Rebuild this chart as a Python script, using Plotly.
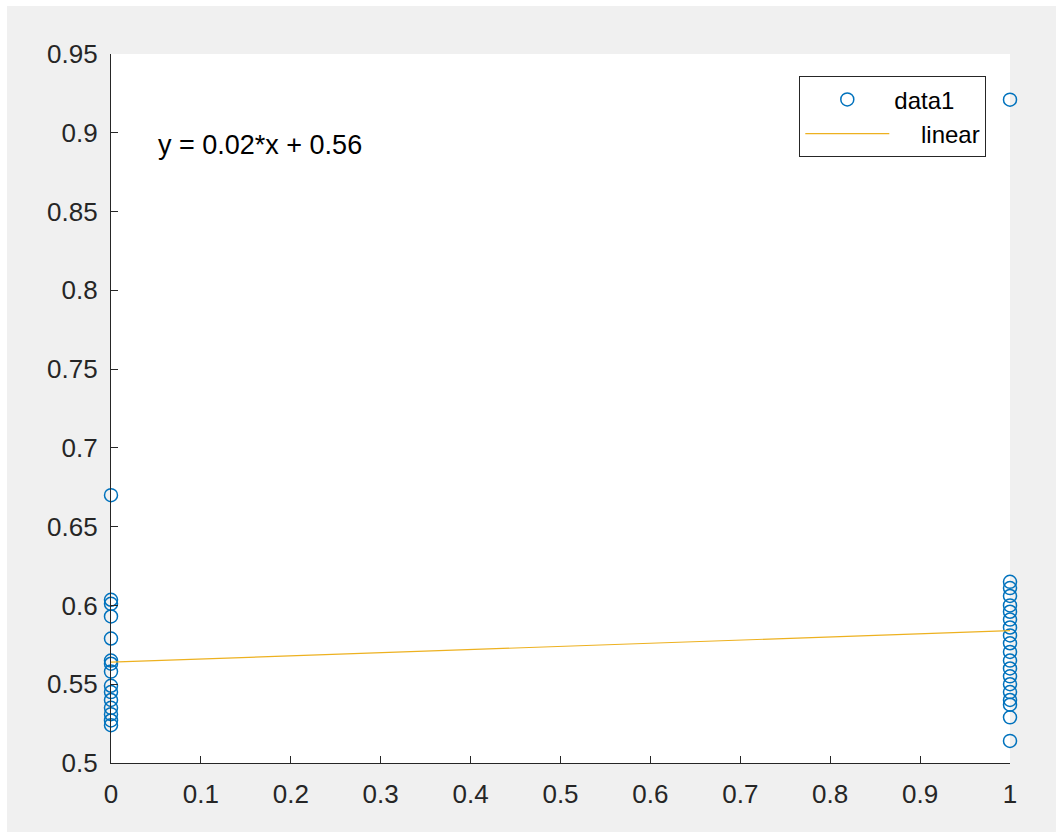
import plotly.graph_objects as go

# ---- data ----
x_group0 = [0] * 15
y_group0 = [0.670, 0.6036, 0.601, 0.593, 0.579, 0.565, 0.563, 0.558, 0.549,
            0.545, 0.540, 0.535, 0.531, 0.527, 0.524]
x_group1 = [1] * 20
y_group1 = [0.921, 0.615, 0.611, 0.606, 0.600, 0.596, 0.591, 0.586, 0.581,
            0.576, 0.5705, 0.565, 0.560, 0.555, 0.550, 0.545, 0.540, 0.537,
            0.529, 0.514]
fit_x = [0, 1]
fit_y = [0.564, 0.584]
series_names = ["data1", "linear"]
equation_text = "y = 0.02*x + 0.56"
equation_pos = (0.05, 0.892)

x_ticks = [0, 0.1, 0.2, 0.3, 0.4, 0.5, 0.6, 0.7, 0.8, 0.9, 1]
x_tick_labels = ["0", "0.1", "0.2", "0.3", "0.4", "0.5", "0.6", "0.7", "0.8", "0.9", "1"]
y_ticks = [0.5, 0.55, 0.6, 0.65, 0.7, 0.75, 0.8, 0.85, 0.9, 0.95]
y_tick_labels = ["0.5", "0.55", "0.6", "0.65", "0.7", "0.75", "0.8", "0.85", "0.9", "0.95"]

BLUE = "#0072BD"
YELLOW = "#EDB120"
AX = "#262626"
FONT = "Liberation Sans, Arial, Helvetica, sans-serif"

# figure placed at page offset (7, 6)
OX, OY = 7, 6
W, H = 1056 - OX, 832 - OY
L, R, T, B = 111 - OX, 46, 54 - OY, 69
pw = W - L - R
ph = H - T - B

fig = go.Figure()
fig.add_trace(go.Scatter(
    x=x_group0 + x_group1, y=y_group0 + y_group1, mode="markers", name=series_names[0],
    marker=dict(symbol="circle-open", size=13, color=BLUE, line=dict(width=1.5, color=BLUE)),
    cliponaxis=False,
))
fig.add_trace(go.Scatter(
    x=fit_x, y=fit_y, mode="lines", name="\u00a0\u00a0\u00a0\u00a0" + series_names[1],
    line=dict(color=YELLOW, width=1.2),
))

fig.add_annotation(
    x=equation_pos[0], y=equation_pos[1], xref="x", yref="y",
    text=equation_text, showarrow=False, xanchor="left", yanchor="middle",
    font=dict(family=FONT, size=27, color="#000000"),
)

axis_common = dict(
    showgrid=False, zeroline=False, showline=True, linecolor=AX, linewidth=1.3,
    ticks="inside", ticklen=7, tickwidth=1.3, tickcolor=AX, mirror=False,
    tickfont=dict(family=FONT, size=26, color=AX),
)
fig.update_xaxes(range=[0, 1], tickvals=x_ticks, ticktext=x_tick_labels,
                 ticklabelstandoff=8, **axis_common)
fig.update_yaxes(range=[0.5, 0.95], tickvals=y_ticks, ticktext=y_tick_labels,
                 ticklabelstandoff=7, **axis_common)

fig.update_layout(
    width=W, height=H,
    margin=dict(l=L, r=R, t=T, b=B, pad=0),
    paper_bgcolor="#f0f0f0", plot_bgcolor="white",
    showlegend=True,
    legend=dict(
        x=(986 - 111) / pw, y=(763 - 76) / ph, xanchor="right", yanchor="top",
        bgcolor="white", bordercolor="#262626", borderwidth=1.3,
        font=dict(family=FONT, size=24, color="#000000"),
        itemwidth=84, tracegroupgap=0,
    ),
)

fig.write_html("out.html",
               post_script="document.body.style.margin='%dpx 0 0 %dpx';" % (OY, OX))
